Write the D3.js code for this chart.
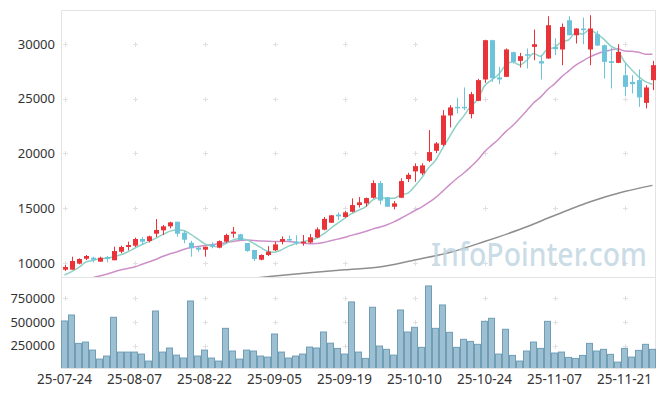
<!DOCTYPE html>
<html>
<head>
<meta charset="utf-8">
<script src="https://cdn.jsdelivr.net/npm/d3@7"></script>
<style>
    body { margin: 0; background: #fff; }
    svg { display: block; font-family: "Noto Sans", sans-serif; }
</style>
</head>
<body>
<div id="chart"></div>
<script>
'use strict';

// Trading days (YY-MM-DD)
const dates = [
    '25-07-24', '25-07-25', '25-07-28', '25-07-29', '25-07-30', '25-07-31', '25-08-01', '25-08-04', '25-08-05', '25-08-06',
    '25-08-07', '25-08-08', '25-08-11', '25-08-12', '25-08-13', '25-08-14', '25-08-18', '25-08-19', '25-08-20', '25-08-21',
    '25-08-22', '25-08-25', '25-08-26', '25-08-27', '25-08-28', '25-08-29', '25-09-01', '25-09-02', '25-09-03', '25-09-04',
    '25-09-05', '25-09-08', '25-09-09', '25-09-10', '25-09-11', '25-09-12', '25-09-15', '25-09-16', '25-09-17', '25-09-18',
    '25-09-19', '25-09-22', '25-09-23', '25-09-24', '25-09-25', '25-09-26', '25-09-29', '25-09-30', '25-10-01', '25-10-02',
    '25-10-10', '25-10-13', '25-10-14', '25-10-15', '25-10-16', '25-10-17', '25-10-20', '25-10-21', '25-10-22', '25-10-23',
    '25-10-24', '25-10-27', '25-10-28', '25-10-29', '25-10-30', '25-10-31', '25-11-03', '25-11-04', '25-11-05', '25-11-06',
    '25-11-07', '25-11-10', '25-11-11', '25-11-12', '25-11-13', '25-11-14', '25-11-17', '25-11-18', '25-11-19', '25-11-20',
    '25-11-21', '25-11-24', '25-11-25', '25-11-26', '25-11-27'
];

const opens = [
    9390, 9390, 9940, 10390, 10480, 10120, 10550, 10250, 11030, 11460,
    11580, 12190, 12010, 12675, 12985, 13350, 13770, 12765, 11850, 11400,
    11215, 11700, 11400, 11945, 12675, 12620, 11825, 11185, 10300, 10730,
    11160, 11945, 12190, 11950, 11800, 11870, 12325, 13040, 13677, 14425,
    14200, 14680, 15290, 15447, 15958, 17300, 15995, 15137, 15958, 17665,
    18367, 18184, 19334, 20246, 20795, 23475, 24260, 24260, 23595, 24810,
    26760, 30347, 26945, 27000, 29250, 28460, 29070, 29735, 28430, 28677,
    29735, 29500, 32170, 30800, 31415, 29500, 30895, 29890, 28430, 28275,
    27150, 26540, 26700, 24625, 26700
];
const highs = [
    9818, 10575, 10430, 10730, 10575, 10575, 10640, 11490, 11580, 11950,
    12310, 12370, 12490, 14015, 13470, 13770, 13770, 12950, 12035, 11520,
    11490, 11890, 12070, 12675, 13290, 12675, 11825, 11185, 10790, 11540,
    11945, 12435, 12490, 12530, 12555, 12645, 13257, 14200, 14380, 14625,
    14745, 15900, 16020, 15976, 17545, 17480, 16020, 15657, 17730, 18240,
    19100, 19100, 22135, 21040, 23960, 24415, 25080, 26030, 25630, 26815,
    30390, 30390, 27910, 29590, 29300, 29190, 29590, 31320, 28980, 32535,
    30530, 31870, 32535, 31440, 32415, 32630, 31195, 29950, 29680, 29980,
    28220, 27150, 27670, 26240, 28460
];
const lows = [
    9270, 9390, 9880, 10270, 10064, 10120, 10060, 10250, 10885, 11150,
    11460, 11700, 11890, 12370, 12555, 13165, 12400, 11800, 10575, 11030,
    10575, 11340, 11340, 11850, 12310, 12010, 11030, 10180, 10245, 10640,
    11095, 11700, 11945, 11640, 11580, 11780, 12280, 12985, 13650, 13920,
    14150, 14625, 15065, 15137, 15885, 15340, 15110, 14900, 15930, 17390,
    17418, 18030, 19215, 20036, 20675, 22380, 23660, 23960, 23200, 24780,
    26450, 26540, 26330, 27000, 28220, 27855, 27765, 28520, 26760, 28660,
    28980, 28065, 30800, 30045, 29980, 28065, 29800, 26850, 25940, 28250,
    25235, 25480, 24260, 24115, 25785
];
const closes = [
    9635, 10180, 10365, 10640, 10300, 10480, 10365, 11090, 11460, 11640,
    12190, 11945, 12435, 13010, 13350, 13710, 12675, 12125, 11340, 11215,
    11490, 11520, 12000, 12555, 12860, 12100, 11095, 10365, 10730, 11030,
    11700, 12190, 12070, 11850, 11945, 12345, 13075, 14030, 14352, 14260,
    14625, 15290, 15540, 15930, 17300, 15700, 15137, 15447, 17480, 18056,
    18850, 18914, 20128, 20920, 23475, 24205, 24170, 24170, 25420, 26700,
    30347, 26880, 26760, 29500, 28370, 28890, 28950, 29980, 28220, 31715,
    29525, 31560, 30800, 31415, 31260, 31415, 29860, 28370, 28275, 29280,
    26085, 26330, 25120, 26030, 28065
];
const volumes = [
    509500, 573000, 273000, 287000, 202000, 107000, 139000, 549000, 181000, 181000,
    181000, 160000, 86000, 615000, 181000, 224000, 149000, 118000, 721000, 139000,
    202000, 118000, 86000, 432000, 192000, 107000, 202000, 192000, 139000, 128000,
    372000, 181000, 118000, 139000, 160000, 234000, 224000, 393000, 275000, 220000,
    160000, 711000, 181000, 114000, 655000, 245000, 210000, 149000, 626000, 393000,
    443000, 231000, 880000, 432000, 679000, 390000, 231000, 316000, 294000, 263000,
    506000, 538000, 160000, 422000, 146000, 86000, 192000, 287000, 220000, 506000,
    171000, 181000, 125000, 114000, 146000, 273000, 192000, 210000, 157000, 75000,
    220000, 128000, 199000, 263000, 210000
];

// Moving averages whose window starts before the first visible day
const ma5Head = [8905, 9206, 9570, 10064];
const ma20Head = [null, null, null, 8560, 8659, 8814, 8969, 9179, 9361, 9498,
    9635, 9863, 10091, 10320, 10593, 10821, 11004, 11232, 11414];
const ma120Idx = [20, 25, 30, 35, 40, 45, 50, 55, 60, 65, 70, 75, 80, 84];
const ma120Vals = [8200, 8495, 8814, 9115, 9380, 9635, 10274, 10958, 11962, 13057, 14334, 15566, 16524, 17090];

const priceTicks = [10000, 15000, 20000, 25000, 30000];
const volumeTicks = [250000, 500000, 750000];
const labelDates = dates.filter((d, i) => i % 10 === 0);

const width = 665;
const height = 396;
const plot = { left: 61, right: 656, top: 10, priceBottom: 277, volTop: 279, volBottom: 368 };

const colors = {
    up: '#ea3339', down: '#6cc3da', ma5: '#8ed1c6', ma20: '#cd90c8', ma120: '#8e8e8e',
    volFill: '#9cc0d1', volStroke: '#6f9eb6', frame: '#e3e3e3', grid: '#e0e0e0', text: '#333'
};

const movingAvg = function(n, head) {
    return closes.map((c, i) => {
        if (i < n - 1) return head[i];
        return d3.mean(closes.slice(i - n + 1, i + 1));
    });
};

const ma5 = movingAvg(5, ma5Head);
const ma20 = movingAvg(20, ma20Head);

const svg = d3.select('#chart').append('svg').attr('width', width).attr('height', height);

const x = d3.scaleBand().domain(dates).range([plot.left, plot.right]).padding(0);
const cx = d => x(d) + x.bandwidth() / 2;
const y = d3.scaleLinear().domain([8721, 33105]).range([plot.priceBottom, plot.top]);
const yVol = d3.scaleLinear().domain([0, 943000]).range([369.2, 280]);

const defs = svg.append('defs');
defs.append('clipPath').attr('id', 'price-clip').append('rect')
    .attr('x', plot.left).attr('y', plot.top)
    .attr('width', plot.right - plot.left).attr('height', plot.priceBottom - plot.top);
defs.append('clipPath').attr('id', 'vol-clip').append('rect')
    .attr('x', plot.left).attr('y', plot.volTop)
    .attr('width', plot.right - plot.left).attr('height', plot.volBottom - plot.volTop);

/* -- Frame ----------------------------------------------------- */
const frame = svg.append('g').attr('stroke', colors.frame).attr('fill', 'none');
frame.append('path').attr('d', `M${plot.left + 0.5},${plot.volBottom} V${plot.top + 0.5} H${plot.right - 0.5} V${plot.volBottom}`);
frame.append('line').attr('x1', plot.left).attr('x2', plot.right)
    .attr('y1', plot.priceBottom + 0.5).attr('y2', plot.priceBottom + 0.5);
frame.append('line').attr('x1', plot.left).attr('x2', plot.right)
    .attr('y1', plot.volBottom + 0.5).attr('y2', plot.volBottom + 0.5);

/* -- Grid "+" marks -------------------------------------------- */
const crossMarks = function(g, ys) {
    labelDates.forEach(d => {
        ys.forEach(v => {
            const px = Math.round(cx(d)) + 0.5;
            const py = Math.round(v) + 0.5;
            g.append('path').attr('d', `M${px - 2.5},${py} H${px + 2.5} M${px},${py - 2.5} V${py + 2.5}`);
        });
    });
};
const grid = svg.append('g').attr('stroke', colors.grid).attr('stroke-width', 1);
crossMarks(grid, priceTicks.map(y));
crossMarks(grid, volumeTicks.map(yVol));

/* -- Axes labels ----------------------------------------------- */
const yAxis = d3.axisLeft(y).tickValues(priceTicks).tickSize(0).tickPadding(6).tickFormat(d3.format('d'));
svg.append('g').attr('transform', `translate(${plot.left}, 0)`).call(yAxis)
    .call(g => g.select('.domain').remove())
    .selectAll('text').style('font-size', '13px').attr('fill', colors.text).attr('font-family', '"Noto Sans", sans-serif');

const volAxis = d3.axisLeft(yVol).tickValues(volumeTicks).tickSize(0).tickPadding(6).tickFormat(d3.format('d'));
svg.append('g').attr('transform', `translate(${plot.left}, 0)`).call(volAxis)
    .call(g => g.select('.domain').remove())
    .selectAll('text').style('font-size', '13px').attr('fill', colors.text).attr('font-family', '"Noto Sans", sans-serif');

const xAxis = d3.axisBottom(x).tickValues(labelDates).tickSize(0).tickPadding(6);
svg.append('g').attr('transform', `translate(0, ${plot.volBottom})`).call(xAxis)
    .call(g => g.select('.domain').remove())
    .selectAll('text').style('font-size', '13.5px').attr('fill', colors.text).attr('font-family', '"Noto Sans", sans-serif');

/* -- Volume bars ----------------------------------------------- */
svg.append('g').attr('clip-path', 'url(#vol-clip)')
    .selectAll('rect').data(volumes).enter().append('rect')
    .attr('x', (v, i) => x(dates[i]) + 0.5)
    .attr('width', x.bandwidth() - 1)
    .attr('y', v => yVol(v))
    .attr('height', v => plot.volBottom + 1 - yVol(v))
    .attr('fill', colors.volFill)
    .attr('stroke', colors.volStroke)
    .attr('stroke-width', 1);

/* -- Moving averages ------------------------------------------- */
const priceLayer = svg.append('g').attr('clip-path', 'url(#price-clip)');
const maLine = d3.line()
    .defined(d => d.v != null)
    .x(d => cx(dates[d.i]))
    .y(d => y(d.v))
    .curve(d3.curveMonotoneX);

const ma120Data = ma120Idx.map((i, k) => ({ i: i, v: ma120Vals[k] }));
priceLayer.append('path').attr('d', maLine(ma120Data))
    .attr('fill', 'none').attr('stroke', colors.ma120).attr('stroke-width', 1.5);
priceLayer.append('path').attr('d', maLine(ma20.map((v, i) => ({ i: i, v: v }))))
    .attr('fill', 'none').attr('stroke', colors.ma20).attr('stroke-width', 1.5);
priceLayer.append('path').attr('d', maLine(ma5.map((v, i) => ({ i: i, v: v }))))
    .attr('fill', 'none').attr('stroke', colors.ma5).attr('stroke-width', 1.5);

/* -- Candles --------------------------------------------------- */
const candle = priceLayer.selectAll('.candle').data(dates).enter().append('g').attr('class', 'candle')
    .attr('fill', (d, i) => closes[i] >= opens[i] ? colors.up : colors.down)
    .attr('stroke', (d, i) => closes[i] >= opens[i] ? colors.up : colors.down);

candle.append('line')
    .attr('x1', d => Math.round(cx(d)) + 0.5).attr('x2', d => Math.round(cx(d)) + 0.5)
    .attr('y1', (d, i) => y(highs[i])).attr('y2', (d, i) => y(lows[i]))
    .attr('stroke-width', 1);

candle.append('rect')
    .attr('x', d => Math.round(cx(d)) - 2)
    .attr('width', 5)
    .attr('y', (d, i) => y(Math.max(opens[i], closes[i])))
    .attr('height', (d, i) => Math.max(1.5, y(Math.min(opens[i], closes[i])) - y(Math.max(opens[i], closes[i]))))
    .attr('stroke', 'none');

/* -- Watermark ------------------------------------------------- */
svg.append('text')
    .attr('x', 431).attr('y', 266)
    .attr('textLength', 216).attr('lengthAdjust', 'spacingAndGlyphs')
    .style('font-size', '32px')
    .style('font-weight', 500)
    .attr('fill', '#bcd3df').attr('fill-opacity', 0.8)
    .text('InfoPointer.com');
</script>
</body>
</html>
